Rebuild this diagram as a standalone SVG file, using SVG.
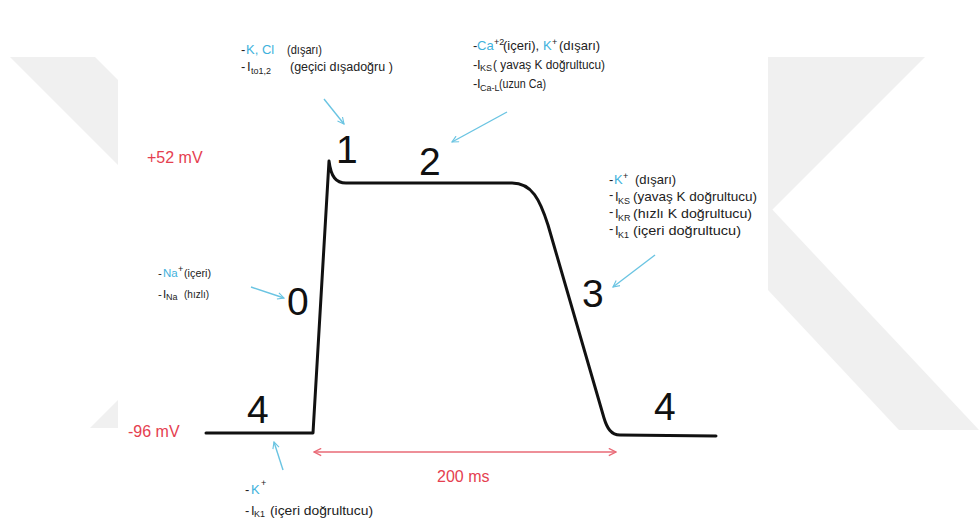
<svg xmlns="http://www.w3.org/2000/svg" width="979" height="525" viewBox="0 0 979 525">
<defs>
<style>
.t{font-family:"Liberation Sans",Arial,sans-serif;font-size:13px;fill:#222}
.m{font-size:12.5px}
.n{font-size:11.5px}
.s{font-family:"Liberation Sans",Arial,sans-serif;font-size:9px;fill:#222}
.c{fill:#3fb2dc}
.big{font-family:"Liberation Sans",Arial,sans-serif;font-size:39px;fill:#111}
.red{font-family:"Liberation Sans",Arial,sans-serif;font-size:16px;fill:#e5404f}
.ar{stroke:#6ac4e2;stroke-width:1.4;fill:none;marker-end:url(#ca)}
.wm{fill:#f0f0f0}
</style>
<marker id="ca" viewBox="0 0 10 10" refX="9" refY="5" markerWidth="8" markerHeight="8" orient="auto" markerUnits="userSpaceOnUse">
<path d="M1,1 L9,5 L1,9" fill="none" stroke="#6ac4e2" stroke-width="1.4"/>
</marker>
<marker id="ra" viewBox="0 0 10 10" refX="9" refY="5" markerWidth="9" markerHeight="9" orient="auto-start-reverse" markerUnits="userSpaceOnUse">
<path d="M1,1 L9,5 L1,9" fill="none" stroke="#e96a76" stroke-width="1.5"/>
</marker>
</defs>
<rect width="979" height="525" fill="#ffffff"/>
<g id="watermark">
<polygon class="wm" points="10,57 95,57 118,80 118,165"/>
<polygon class="wm" points="90,428 118,428 118,400"/>
<polygon class="wm" points="768,57 925,57 768,214"/>
<polygon class="wm" points="768,205 979,430 899,430 768,290"/>
<rect x="118" y="40" width="650" height="400" fill="#ffffff"/>
</g>
<g id="curve">
<path d="M206,433 L313,433 L329,161 C331,177 336,183 346,183 L512,183 C532,183 540,200 548,225 L604,418 C607,428 611,435 620,435 L716,436" fill="none" stroke="#111" stroke-width="3" stroke-linejoin="round" stroke-linecap="round"/>
</g>
<g id="phase-labels">
<text class="big" x="336" y="163">1</text>
<text class="big" x="419" y="175">2</text>
<text class="big" x="287" y="315">0</text>
<text class="big" x="582" y="307">3</text>
<text class="big" x="247" y="423">4</text>
<text class="big" x="654" y="420">4</text>
</g>
<g id="voltage-labels">
<text class="red" x="147" y="163">+52 mV</text>
<text class="red" x="128" y="437">-96 mV</text>
<text class="red" x="437" y="482">200 ms</text>
</g>
<g id="phase1-note">
<text class="t" x="241" y="54">-</text>
<text class="t c" x="246" y="54">K, Cl</text>
<text class="t" x="287" y="54" textLength="35" lengthAdjust="spacingAndGlyphs">(dışarı)</text>
<text class="t" x="241" y="71">-</text>
<text class="t" x="247" y="71">I</text>
<text class="s" x="251" y="74" font-size="10.5">to1,2</text>
<text class="t m" x="290" y="71">(geçici dışadoğru )</text>
</g>
<g id="phase2-note">
<text class="t" x="473" y="50">-</text>
<text class="t c" x="477" y="50">Ca</text>
<text class="s" x="494" y="45">+2</text>
<text class="t" x="503" y="50">(içeri),</text>
<text class="t c" x="543" y="50">K</text>
<text class="s" x="552" y="45">+</text>
<text class="t" x="559" y="50">(dışarı)</text>
<text class="t" x="473" y="69">-</text>
<text class="t" x="477" y="69">I</text>
<text class="s" x="480" y="71">KS</text>
<text class="t m" x="493" y="69" textLength="112" lengthAdjust="spacingAndGlyphs">( yavaş K doğrultucu)</text>
<text class="t" x="473" y="88">-</text>
<text class="t" x="477" y="88">I</text>
<text class="s" x="480" y="91" font-size="8.5">Ca-L</text>
<text class="t m" x="499" y="88" textLength="47" lengthAdjust="spacingAndGlyphs">(uzun Ca)</text>
</g>
<g id="phase3-note">
<text class="t" x="609" y="184">-</text>
<text class="t c" x="614" y="184">K</text>
<text class="s" x="623" y="179">+</text>
<text class="t" x="635" y="184">(dışarı)</text>
<text class="t" x="609" y="199">-</text>
<text class="t" x="615" y="201">I</text>
<text class="s" x="618" y="204">KS</text>
<text class="t" x="633" y="201" textLength="124" lengthAdjust="spacingAndGlyphs">(yavaş K doğrultucu)</text>
<text class="t" x="609" y="216">-</text>
<text class="t" x="615" y="218">I</text>
<text class="s" x="618" y="221">KR</text>
<text class="t" x="633" y="218" textLength="119" lengthAdjust="spacingAndGlyphs">(hızlı K doğrultucu)</text>
<text class="t" x="609" y="233">-</text>
<text class="t" x="615" y="235">I</text>
<text class="s" x="618" y="238">K1</text>
<text class="t" x="633" y="235" textLength="108" lengthAdjust="spacingAndGlyphs">(içeri doğrultucu)</text>
</g>
<g id="phase0-note">
<text class="t n" x="158" y="277">-</text>
<text class="t n c" x="163" y="277">Na</text>
<text class="s" x="178" y="272" font-size="8">+</text>
<text class="t n" x="184" y="277" textLength="27" lengthAdjust="spacingAndGlyphs">(içeri)</text>
<text class="t n" x="158" y="298">-</text>
<text class="t n" x="163" y="298">I</text>
<text class="s" x="166" y="300" font-size="7.5">Na</text>
<text class="t n" x="184" y="298" textLength="25" lengthAdjust="spacingAndGlyphs">(hızlı)</text>
</g>
<g id="phase4-note">
<text class="t" x="245" y="494">-</text>
<text class="t c" x="251" y="494">K</text>
<text class="s" x="261" y="486">+</text>
<text class="t" x="245" y="515">-</text>
<text class="t" x="251" y="515">I</text>
<text class="s" x="254" y="517">K1</text>
<text class="t" x="270" y="515" textLength="103" lengthAdjust="spacingAndGlyphs">(içeri doğrultucu)</text>
</g>
<g id="connectors">
<line class="ar" x1="324" y1="99" x2="344" y2="124"/>
<line class="ar" x1="507" y1="112" x2="452" y2="142"/>
<line class="ar" x1="655" y1="255" x2="613" y2="287"/>
<line class="ar" x1="251" y1="287" x2="284" y2="298"/>
<line class="ar" x1="283" y1="470" x2="274" y2="442"/>
<line x1="314" y1="452" x2="616" y2="452" stroke="#e96a76" stroke-width="1.5" marker-start="url(#ra)" marker-end="url(#ra)"/>
</g>
</svg>
